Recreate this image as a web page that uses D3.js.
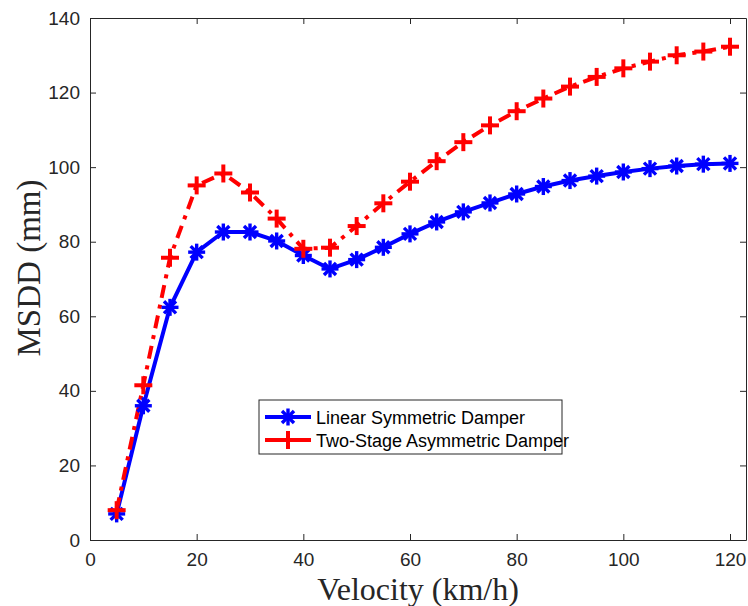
<!DOCTYPE html>
<html lang="en">
<head>
<meta charset="UTF-8">
<title>MSDD vs Velocity</title>
<script src="https://cdn.jsdelivr.net/npm/d3@7.8.5/dist/d3.min.js"></script>
<style>
    body { margin: 0; background: #fff; }
    svg { display: block; }
    .tick text { font-family: "Liberation Sans", Arial, sans-serif; font-size: 19px; fill: #262626; }
    .domain, .tick line { stroke: #262626; }
</style>
</head>
<body>
<div id="chart"></div>
<script>
// data
const velocity = [5, 10, 15, 20, 25, 30, 35, 40, 45, 50, 55, 60, 65, 70, 75, 80, 85, 90, 95, 100, 105, 110, 115, 120];
const linearSymmetric = [7, 36, 62.4, 77.2, 82.6, 82.6, 80.2, 76.3, 72.7, 75.2, 78.5, 82.1, 85.3, 88, 90.4, 92.8, 94.8, 96.4, 97.6, 98.7, 99.6, 100.3, 100.8, 101];
const twoStageAsym = [8, 41.5, 75.7, 95.1, 98.3, 93.2, 86.2, 78.1, 78.4, 84.2, 90.3, 96.1, 101.6, 106.7, 111.2, 115, 118.4, 121.6, 124.2, 126.5, 128.3, 130, 131, 132.3];
const xTicks = [0, 20, 40, 60, 80, 100, 120];
const yTicks = [0, 20, 40, 60, 80, 100, 120, 140];
const seriesNames = ["Linear Symmetric Damper", "Two-Stage Asymmetric Damper"];

const W = 748, H = 606;
const plotLeft = 90, plotRight = 746, plotTop = 18, plotBottom = 540;

const svg = d3.select("#chart").append("svg")
    .attr("width", W)
    .attr("height", H);

const x = d3.scaleLinear().domain([0, 123]).range([plotLeft, plotRight]);
const y = d3.scaleLinear().domain([0, 140]).range([plotBottom, plotTop]);

// axes with inward ticks (matlab style, box on)
svg.append("g")
    .attr("transform", `translate(0,${plotBottom})`)
    .call(d3.axisBottom(x).tickValues(xTicks).tickSize(-6).tickPadding(13).tickSizeOuter(0));
svg.append("g")
    .attr("transform", `translate(0,${plotTop})`)
    .call(d3.axisTop(x).tickValues(xTicks).tickSize(-6).tickFormat("").tickSizeOuter(0));
svg.append("g")
    .attr("transform", `translate(${plotLeft},0)`)
    .call(d3.axisLeft(y).tickValues(yTicks).tickSize(-6).tickPadding(10).tickSizeOuter(0));
svg.append("g")
    .attr("transform", `translate(${plotRight},0)`)
    .call(d3.axisRight(y).tickValues(yTicks).tickSize(-6).tickFormat("").tickSizeOuter(0));

svg.selectAll(".domain").attr("stroke-width", 1);

// lines
const line = d3.line().x((d, i) => x(velocity[i])).y(d => y(d));

svg.append("path")
    .datum(linearSymmetric)
    .attr("fill", "none")
    .attr("stroke", "#0000ff")
    .attr("stroke-width", 4)
    .attr("stroke-linejoin", "round")
    .attr("d", line);

svg.append("path")
    .datum(twoStageAsym)
    .attr("fill", "none")
    .attr("stroke", "#ff0000")
    .attr("stroke-width", 4)
    .attr("stroke-dasharray", "13,7,4,7")
    .attr("d", line);

// markers
function asterisk(g, cx, cy, r, color) {
    [0, 45, 90, 135].forEach(a => {
        const rad = a * Math.PI / 180;
        g.append("line")
            .attr("x1", cx - r * Math.cos(rad)).attr("y1", cy - r * Math.sin(rad))
            .attr("x2", cx + r * Math.cos(rad)).attr("y2", cy + r * Math.sin(rad))
            .attr("stroke", color).attr("stroke-width", 3.4);
    });
}
function plus(g, cx, cy, r, color) {
    g.append("line").attr("x1", cx - r).attr("y1", cy).attr("x2", cx + r).attr("y2", cy)
        .attr("stroke", color).attr("stroke-width", 4);
    g.append("line").attr("x1", cx).attr("y1", cy - r).attr("x2", cx).attr("y2", cy + r)
        .attr("stroke", color).attr("stroke-width", 4);
}

const mk1 = svg.append("g");
linearSymmetric.forEach((v, i) => asterisk(mk1, x(velocity[i]), y(v), 8.5, "#0000ff"));
const mk2 = svg.append("g");
twoStageAsym.forEach((v, i) => plus(mk2, x(velocity[i]), y(v), 9, "#ff0000"));

// axis labels
svg.append("text")
    .attr("x", (plotLeft + plotRight) / 2)
    .attr("y", 600)
    .attr("text-anchor", "middle")
    .style("font-family", "'Liberation Serif', 'Times New Roman', serif")
    .style("font-size", "32px")
    .attr("fill", "#262626")
    .text("Velocity (km/h)");

svg.append("text")
    .attr("transform", `translate(40,268) rotate(-90)`)
    .attr("text-anchor", "middle")
    .style("font-family", "'Liberation Serif', 'Times New Roman', serif")
    .style("font-size", "33px")
    .attr("fill", "#262626")
    .text("MSDD (mm)");

// legend
const legend = svg.append("g").attr("transform", "translate(259,400)");
legend.append("rect")
    .attr("width", 303).attr("height", 54)
    .attr("fill", "#fff").attr("stroke", "#262626").attr("stroke-width", 1);

seriesNames.forEach((name, i) => {
    const row = legend.append("g").attr("transform", `translate(0,${17 + i * 23})`);
    row.append("line")
        .attr("x1", 6).attr("x2", 52).attr("y1", 0).attr("y2", 0)
        .attr("stroke", i === 0 ? "#0000ff" : "#ff0000")
        .attr("stroke-width", 4);
    if (i === 0) asterisk(row, 29, 0, 8.5, "#0000ff");
    else plus(row, 29, 0, 9, "#ff0000");
    row.append("text")
        .attr("x", 57).attr("y", 6.5)
        .style("font-family", "'Liberation Sans', Arial, sans-serif")
        .style("font-size", "18px")
        .attr("fill", "#000")
        .text(name);
});
</script>
</body>
</html>
